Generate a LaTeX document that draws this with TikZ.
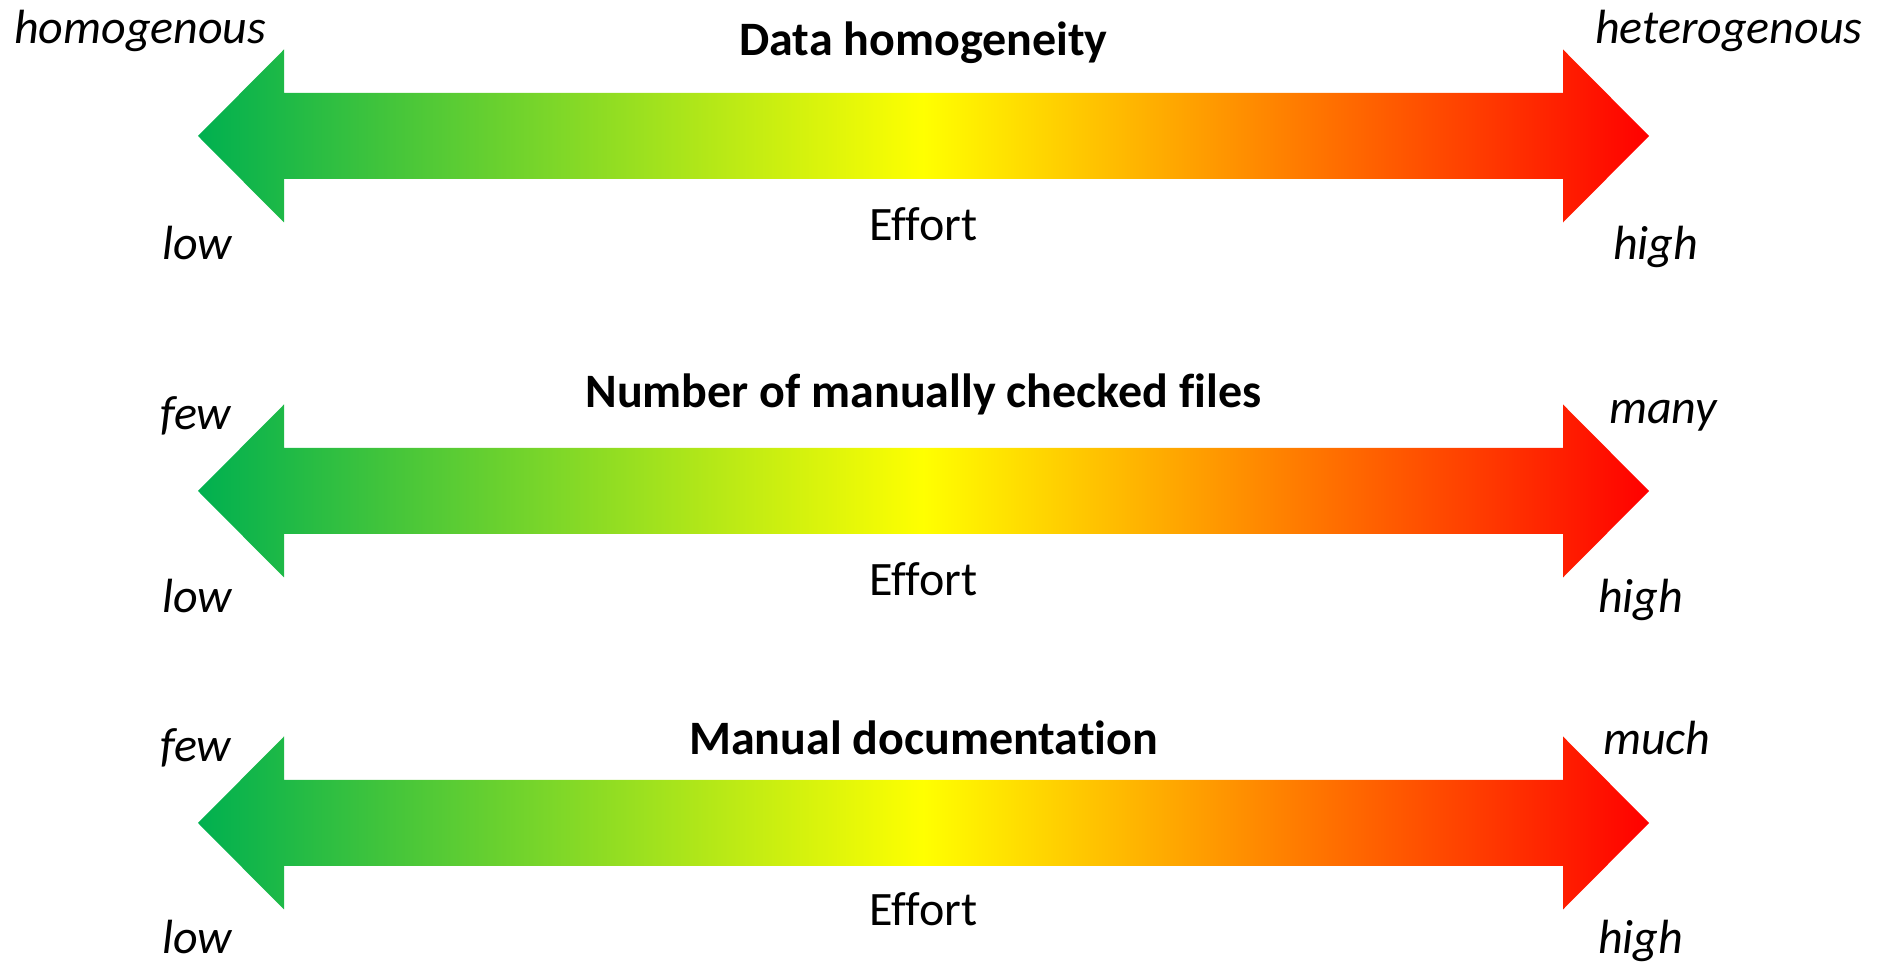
\documentclass[tikz,border=0pt]{standalone}
\usepackage{fontspec}
\setmainfont{Carlito}[Ligatures=NoCommon]
\usepackage{xcolor}
\definecolor{effortGreen}{HTML}{00B050}
\definecolor{effortYellow}{HTML}{FFFF00}
\definecolor{effortRed}{HTML}{FF0000}
\usetikzlibrary{positioning}
\tikzset{
  effortband/.style={draw=none,left color=effortGreen,right color=effortRed,middle color=effortYellow},
  pics/effortarrow/.style={code={
    \shade[effortband] (-725.5,0) -- ++(86,86.5) -- ++(0,-43.5) -- ++(1279,0) -- ++(0,43.5)
      -- ++(86,-86.5) -- ++(-86,-86.5) -- ++(0,43.5) -- ++(-1279,0) -- ++(0,-43.5) -- cycle;
  }},
  scaletitle/.style={font=\fontsize{48}{58}\selectfont\bfseries,anchor=base,inner sep=0pt},
  effortlabel/.style={font=\fontsize{48}{58}\selectfont,anchor=base,inner sep=0pt},
  endlabel/.style={font=\fontsize{48}{58}\selectfont\itshape,anchor=base west,inner sep=0pt},
}

\begin{document}
\begin{tikzpicture}[x=1pt,y=1pt]
  \useasboundingbox (0,0) rectangle (1883,963);

  % data homogeneity
  \pic at (923.5,827) {effortarrow};
  \node[scaletitle] (homTitle) at (923.5,907) {Data homogeneity};
  \node[effortlabel] (homEffort) at (923.5,722) {Effort};
  \node[endlabel] (homLeft) at (14,919) {homogenous};
  \node[endlabel] (homRight) at (1595,919) {heterogenous};
  \node[endlabel] (homLow) at (162,703) {low};
  \node[endlabel] (homHigh) at (1613,703) {high};

  % manually checked files
  \pic at (923.5,472) {effortarrow};
  \node[scaletitle] (chkTitle) at (923.5,555) {Number of manually checked files};
  \node[effortlabel] (chkEffort) at (923.5,367) {Effort};
  \node[endlabel] (chkLeft) at (160,533) {few};
  \node[endlabel] (chkRight) at (1609,539) {many};
  \node[endlabel] (chkLow) at (162,350) {low};
  \node[endlabel] (chkHigh) at (1598,350) {high};

  % manual documentation
  \pic at (923.5,140) {effortarrow};
  \node[scaletitle] (docTitle) at (923.5,208) {Manual documentation};
  \node[effortlabel] (docEffort) at (923.5,37) {Effort};
  \node[endlabel] (docLeft) at (160,201) {few};
  \node[endlabel] (docRight) at (1603,208) {much};
  \node[endlabel] (docLow) at (162,9) {low};
  \node[endlabel] (docHigh) at (1598,9) {high};
\end{tikzpicture}
\end{document}
